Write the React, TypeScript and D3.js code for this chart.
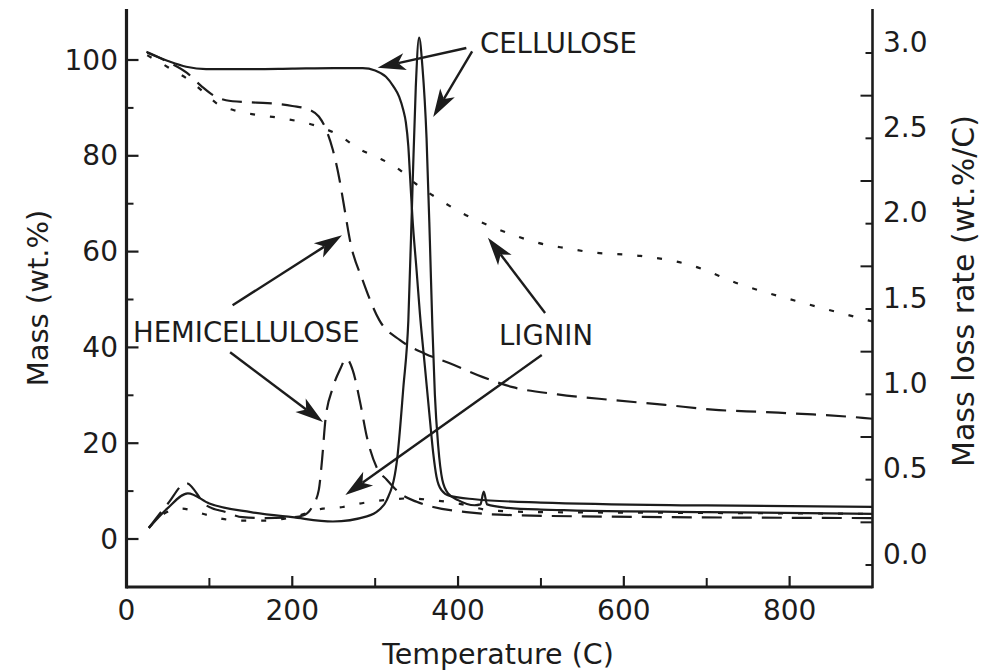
import React from "react";
import * as d3 from "d3";

// ---------- Data ----------
// Mass (wt.%) curves, left axis: [temperature C, mass %]
const celluloseMass: [number, number][] = [
  [25, 101.5], [50, 99.8], [72, 98.6], [96, 98.1], [150, 98.1], [200, 98.2], [250, 98.3], [285, 98.3],
  [300, 97.8], [313, 96.5], [322, 94.5], [329, 92.3], [334, 89.5], [337, 87], [340, 82], [342, 76],
  [345, 67], [350, 56], [354, 47], [360, 36], [366, 25], [370, 18], [374, 13], [380, 10.2],
  [390, 9], [420, 8.3], [500, 7.6], [700, 7.0], [900, 6.7],
];
const hemicelluloseMass: [number, number][] = [
  [24, 101.7], [50, 99.6], [73, 97.3], [90, 94.6], [105, 92.6], [120, 91.6], [145, 91.2], [170, 91],
  [200, 90.4], [221, 89.6], [232, 88.2], [240, 85.8], [249, 81.2], [257, 75], [262, 70], [270, 62],
  [285, 54], [305, 45.7], [330, 41.5], [360, 38.7], [390, 36.7], [430, 33.8], [466, 31.7],
  [520, 30.2], [587, 29], [650, 28], [707, 27], [770, 26.5], [828, 26], [888, 25.3], [900, 25.1],
];
const ligninMass: [number, number][] = [
  [25, 101], [50, 98.5], [77, 95.6], [95, 93], [110, 90.8], [128, 89.6], [155, 88.6], [185, 87.9],
  [230, 86.2], [254, 84.5], [282, 81.3], [305, 79.5], [330, 77], [348, 74.3], [378, 70.8],
  [402, 68.3], [442, 65.1], [466, 63.5], [507, 61.4], [531, 60.7], [559, 59.9], [620, 59.1],
  [680, 57.2], [740, 53.2], [812, 49.5], [885, 46.1], [900, 45.4],
];

// Mass loss rate (wt.%/C) curves, right axis: [temperature C, rate]
const celluloseRate: [number, number][] = [
  [27, 0.217], [49, 0.33], [74, 0.42], [100, 0.36], [150, 0.31], [200, 0.28], [249, 0.255],
  [290, 0.285], [304, 0.32], [314, 0.38], [326, 0.6], [334, 1.04], [340, 1.43], [345, 2.2],
  [349, 2.8], [353, 3.09], [357, 2.92], [362, 2.5], [366, 1.9], [369, 1.4], [372, 1.0],
  [376, 0.7], [381, 0.5], [388, 0.42], [400, 0.38], [420, 0.35], [427, 0.355], [431, 0.43],
  [435, 0.355], [460, 0.335], [500, 0.325], [700, 0.31], [900, 0.3],
];
const hemicelluloseRate: [number, number][] = [
  [27, 0.217], [50, 0.36], [72, 0.48], [96, 0.35], [120, 0.31], [140, 0.28], [168, 0.275],
  [200, 0.28], [213, 0.29], [225, 0.35], [232, 0.44], [236, 0.62], [240, 0.85], [249, 1.04],
  [258, 1.15], [265, 1.21], [273, 1.14], [282, 0.95], [290, 0.75], [302, 0.57], [314, 0.5],
  [330, 0.42], [350, 0.37], [370, 0.34], [410, 0.31], [450, 0.295], [550, 0.285], [900, 0.275],
];
const ligninRate: [number, number][] = [
  [27, 0.22], [45, 0.3], [66, 0.33], [92, 0.3], [116, 0.27], [140, 0.26], [164, 0.26],
  [200, 0.28], [237, 0.33], [261, 0.34], [287, 0.365], [311, 0.38], [340, 0.39], [370, 0.38],
  [400, 0.36], [440, 0.32], [500, 0.31], [700, 0.305], [900, 0.3],
];

// Axis ticks
const xMajorTicks = [0, 200, 400, 600, 800];
const xMinorTicks = [100, 300, 500, 700];
const yLeftMajorTicks = [0, 20, 40, 60, 80, 100];
const yLeftMinorTicks = [10, 30, 50, 70, 90];
const yRightLabels = [0, 0.5, 1.0, 1.5, 2.0, 2.5, 3.0];
const yRightTicks = [0, 0.25, 0.5, 0.75, 1.0, 1.25, 1.5, 1.75, 2.0, 2.25, 2.5, 2.75, 3.0];

const annotationLabels = ["CELLULOSE", "HEMICELLULOSE", "LIGNIN"];

export default function App() {
  const W = 989, H = 671;
  const x = d3.scaleLinear().domain([0, 900]).range([126.5, 872.5]);
  const yL = d3.scaleLinear().domain([0, 100]).range([539, 60]);
  const yR = d3.scaleLinear().domain([0, 3]).range([565, 53]);
  const axisTop = 9, axisBottom = 587;
  const font = "'DejaVu Sans', Verdana, sans-serif";
  const ink = "#1c1c1c";

  const lineL = d3.line<[number, number]>().x(d => x(d[0])).y(d => yL(d[1])).curve(d3.curveMonotoneX);
  const lineR = d3.line<[number, number]>().x(d => x(d[0])).y(d => yR(d[1])).curve(d3.curveMonotoneX);

  const dash = "20,10";
  const dots = "5,15";

  // arrows [fromX, fromY, toX, toY], positioned via the data scales
  const arrows: [number, number, number, number][] = [
    [x(410), yL(102.5), x(303), yL(98.4)],
    [x(417), yL(101.8), x(370), yL(88.1)],
    [x(128), yL(48.8), x(260), yL(63.4)],
    [x(125), yL(39.0), x(237), yL(24.4)],
    [x(505), yL(47.2), x(436), yL(62.9)],
    [x(501), yL(38.4), x(264), yL(9.2)],
  ];

  const arrowHead = (x1: number, y1: number, x2: number, y2: number) => {
    const dx = x2 - x1, dy = y2 - y1;
    const len = Math.hypot(dx, dy);
    const ux = dx / len, uy = dy / len;
    const px = -uy, py = ux;
    const L = 28, Wd = 8.5, notch = 7;
    const bx = x2 - ux * L, by = y2 - uy * L;
    const nx = x2 - ux * (L - notch), ny = y2 - uy * (L - notch);
    return {
      path: `M${x2},${y2} L${bx + px * Wd},${by + py * Wd} L${nx},${ny} L${bx - px * Wd},${by - py * Wd} Z`,
      lx: nx, ly: ny,
    };
  };

  return (
    <svg width={W} height={H} style={{ position: "absolute", left: 0, top: 0, background: "#fff" }}>
      <rect width={W} height={H} fill="#fff" />
      <g fill="none" stroke={ink} strokeWidth={2.2}>
        <path d={lineL(ligninMass) || ""} strokeDasharray={dots} />
        <path d={lineR(ligninRate) || ""} strokeDasharray={dots} />
        <path d={lineL(hemicelluloseMass) || ""} strokeDasharray={dash} />
        <path d={lineR(hemicelluloseRate) || ""} strokeDasharray={dash} />
        <path d={lineL(celluloseMass) || ""} />
        <path d={lineR(celluloseRate) || ""} />
      </g>

      <g stroke={ink} fill="none">
        <line x1={x(0)} x2={x(0)} y1={axisTop} y2={axisBottom + 1.5} strokeWidth={3.2} />
        <line x1={x(900)} x2={x(900)} y1={axisTop} y2={axisBottom + 1.2} strokeWidth={2.6} />
        <line x1={x(0)} x2={x(900)} y1={axisBottom} y2={axisBottom} strokeWidth={2.8} />
        {yLeftMajorTicks.map(v => (
          <line key={"lM" + v} x1={x(0)} x2={x(0) + 12} y1={yL(v)} y2={yL(v)} strokeWidth={2.2} />
        ))}
        {yLeftMinorTicks.map(v => (
          <line key={"lm" + v} x1={x(0)} x2={x(0) + 7} y1={yL(v)} y2={yL(v)} strokeWidth={2} />
        ))}
        {xMajorTicks.filter(v => v > 0).map(v => (
          <line key={"xM" + v} x1={x(v)} x2={x(v)} y1={axisBottom} y2={axisBottom - 11} strokeWidth={2.2} />
        ))}
        {xMinorTicks.map(v => (
          <line key={"xm" + v} x1={x(v)} x2={x(v)} y1={axisBottom} y2={axisBottom - 9} strokeWidth={2} />
        ))}
        {yRightTicks.map((v, i) => (
          <line key={"r" + v} x1={x(900)} x2={x(900) - (i % 2 === 0 ? 7 : 12)} y1={yR(v)} y2={yR(v)} strokeWidth={2} />
        ))}
      </g>

      <g fill={ink} fontFamily={font} fontSize={28}>
        {yLeftMajorTicks.map(v => (
          <text key={"lt" + v} x={118} y={yL(v)} textAnchor="end" dominantBaseline="central">{v}</text>
        ))}
        {xMajorTicks.map(v => (
          <text key={"xt" + v} x={x(v)} y={620} textAnchor="middle">{v}</text>
        ))}
        {yRightLabels.map(v => (
          <text key={"rt" + v} x={883} y={yR(v) - 11} textAnchor="start" dominantBaseline="central">{v.toFixed(1)}</text>
        ))}
      </g>

      <g fill={ink} fontFamily={font}>
        <text x={498} y={664} textAnchor="middle" fontSize={28.5}>Temperature (C)</text>
        <text transform="translate(38,298) rotate(-90)" textAnchor="middle" dominantBaseline="central" fontSize={29}>Mass (wt.%)</text>
        <text transform="translate(963,291) rotate(-90)" textAnchor="middle" dominantBaseline="central" fontSize={30}>Mass loss rate (wt.%/C)</text>
      </g>

      <g fill={ink} fontFamily={font} fontSize={27.5}>
        <text x={480} y={53}>{annotationLabels[0]}</text>
        <text x={133} y={342}>{annotationLabels[1]}</text>
        <text x={499} y={345}>{annotationLabels[2]}</text>
      </g>

      <g>
        {arrows.map((a, i) => {
          const h = arrowHead(a[0], a[1], a[2], a[3]);
          return (
            <g key={"a" + i}>
              <line x1={a[0]} y1={a[1]} x2={h.lx} y2={h.ly} stroke={ink} strokeWidth={2.4} />
              <path d={h.path} fill={ink} />
            </g>
          );
        })}
      </g>
    </svg>
  );
}
